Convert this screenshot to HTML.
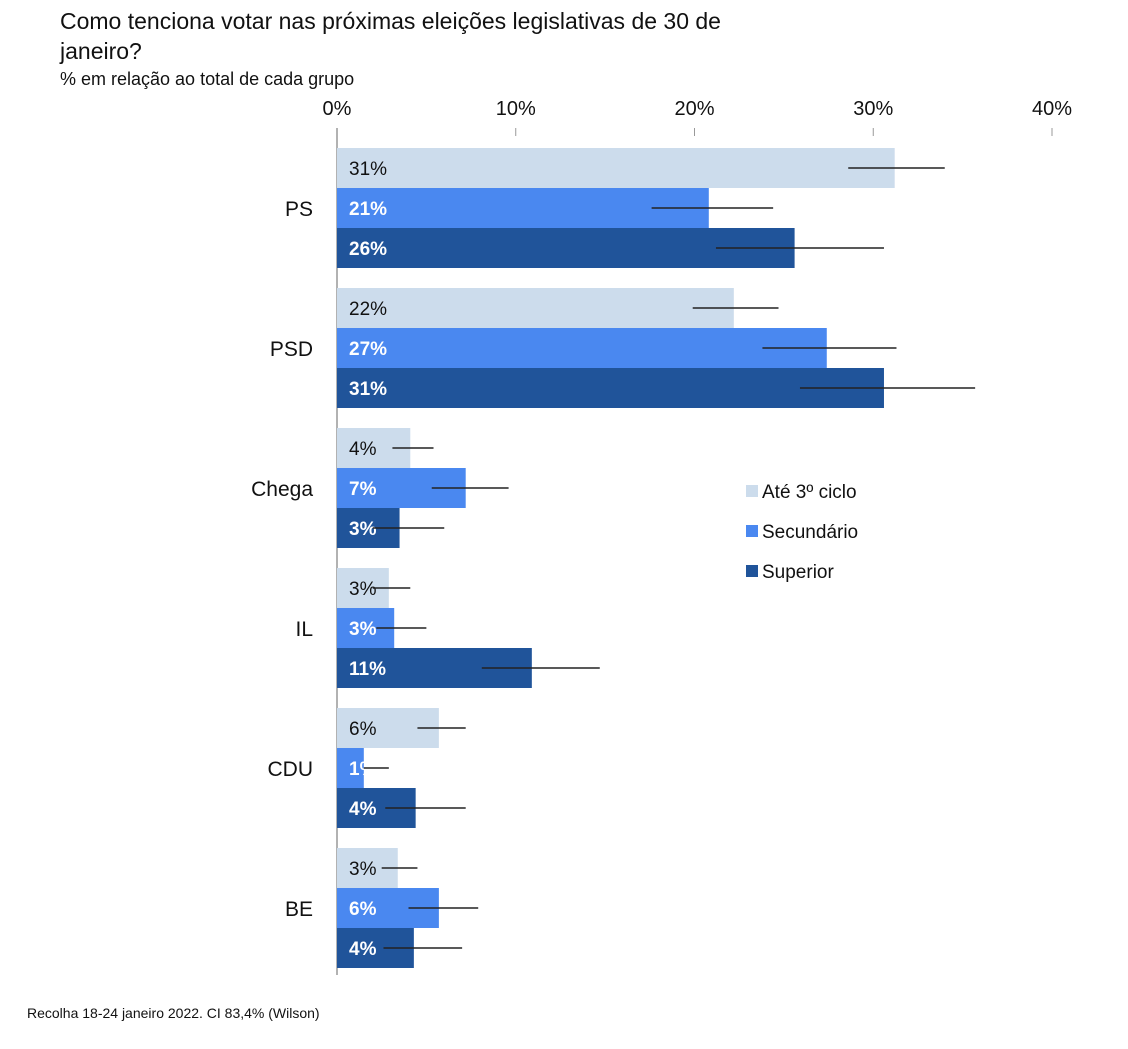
<!DOCTYPE html>
<html><head><meta charset="utf-8"><style>
body{margin:0;background:#fff;width:1128px;height:1044px;overflow:hidden;font-family:"Liberation Sans",sans-serif}
</style></head><body>
<svg id="c" width="1128" height="1044" xmlns="http://www.w3.org/2000/svg" font-family="Liberation Sans, sans-serif">
<text x="60" y="29" font-size="23" fill="#111">Como tenciona votar nas próximas eleições legislativas de 30 de</text>
<text x="60" y="59" font-size="23" fill="#111">janeiro?</text>
<text x="60" y="85" font-size="18" fill="#111">% em relação ao total de cada grupo</text>
<text x="27" y="1018" font-size="14" fill="#111">Recolha 18-24 janeiro 2022. CI 83,4% (Wilson)</text>
<g id="plot"></g>
</svg>
<script>
const categories=["PS","PSD","Chega","IL","CDU","BE"];
const seriesNames=["Até 3º ciclo","Secundário","Superior"];
const valAte=[31.2,22.2,4.1,2.9,5.7,3.4];
const valSec=[20.8,27.4,7.2,3.2,1.5,5.7];
const valSup=[25.6,30.6,3.5,10.9,4.4,4.3];
const loAte=[28.6,19.9,3.1,2.0,4.5,2.5];
const hiAte=[34.0,24.7,5.4,4.1,7.2,4.5];
const loSec=[17.6,23.8,5.3,2.2,1.5,4.0];
const hiSec=[24.4,31.3,9.6,5.0,2.9,7.9];
const loSup=[21.2,25.9,2.0,8.1,2.7,2.6];
const hiSup=[30.6,35.7,6.0,14.7,7.2,7.0];
const labAte=["31%","22%","4%","3%","6%","3%"];
const labSec=["21%","27%","7%","3%","1%","6%"];
const labSup=["26%","31%","3%","11%","4%","4%"];
const ticks=[0,10,20,30,40];
const NS="http://www.w3.org/2000/svg";
const g=document.getElementById('plot');
const x=v=>337+v*17.875;
const y=(ci,si)=>148+ci*140+si*40;
function mk(t,a){const e=document.createElementNS(NS,t);for(const k in a)e.setAttribute(k,a[k]);g.appendChild(e);return e;}
ticks.forEach(t=>{
 const tl=mk('line',{x1:x(t),x2:x(t),y1:128,y2:136,stroke:'#999','stroke-width':1});
 
 
 const tx=mk('text',{x:x(t),y:115,'font-size':20,'text-anchor':'middle',fill:'#111'});tx.textContent=t+'%';
 
 
});
const ax=mk('line',{x1:337,x2:337,y1:128,y2:975,stroke:'#999','stroke-width':1.5});


const colors=["#ccdcec","#4a88f0","#20549a"];
const txtCol=["#111","#fff","#fff"];
const vals=[valAte,valSec,valSup],los=[loAte,loSec,loSup],his=[hiAte,hiSec,hiSup],labs=[labAte,labSec,labSup];
categories.forEach((c,ci)=>{
 const cl=mk('text',{x:313,y:y(ci,1)+28,'font-size':21,'text-anchor':'end',fill:'#111'});cl.textContent=c;
 
 
 for(let si=0;si<3;si++){
  const r=mk('rect',{x:337,y:y(ci,si),width:x(vals[si][ci])-337,height:40,fill:colors[si]});
  
  
  const t=mk('text',{x:349,y:y(ci,si)+27,'font-size':19,fill:txtCol[si],'font-weight':si?'bold':'normal'});t.textContent=labs[si][ci];
  
  
  const e=mk('line',{x1:x(los[si][ci]),x2:x(his[si][ci]),y1:y(ci,si)+20,y2:y(ci,si)+20,stroke:'#222','stroke-width':1.5});
  
  
 }
});
seriesNames.forEach((n,i)=>{
 const r=mk('rect',{x:746,y:485+i*40,width:12,height:12,fill:colors[i]});
 
 
 const t=mk('text',{x:762,y:498+i*40,'font-size':19,fill:'#111'});t.textContent=n;
 
 
});
</script>
</body></html>
